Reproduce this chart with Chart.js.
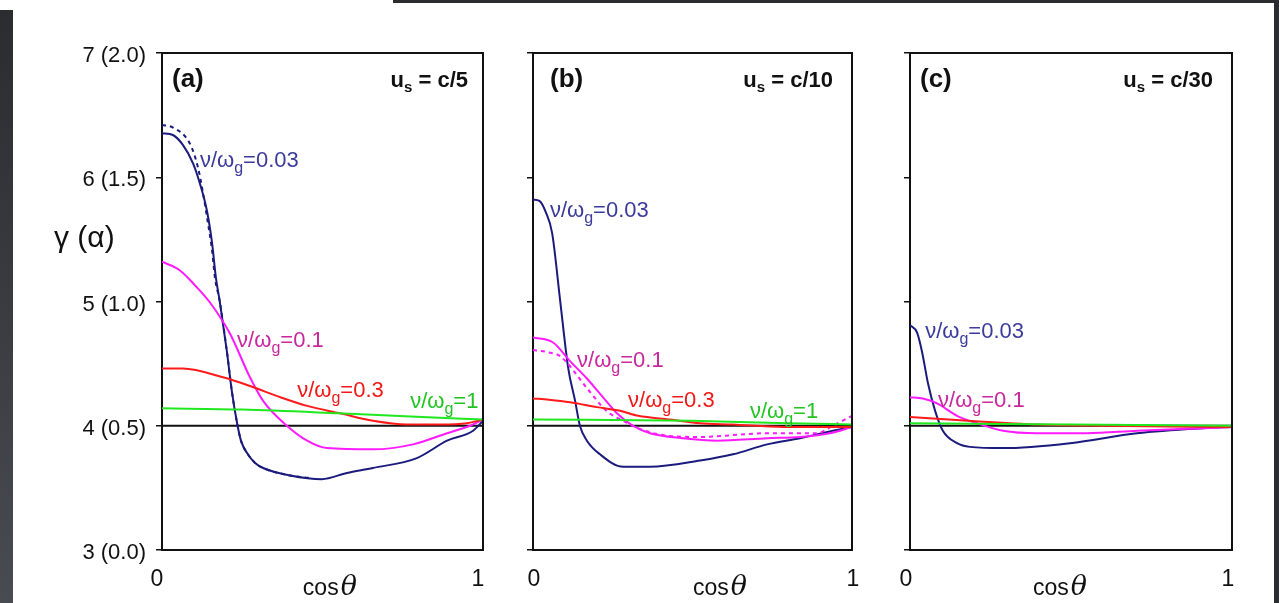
<!DOCTYPE html>
<html>
<head>
<meta charset="utf-8">
<script src="https://cdn.jsdelivr.net/npm/chart.js@4.4.1/dist/chart.umd.min.js"></script>
<style>
  body { margin: 0; width: 1279px; height: 603px; overflow: hidden; position: relative; background: #fff; }
  .pane { position: absolute; top: 0; height: 603px; }
  #edgeL { position: absolute; left: 0; top: 10px; width: 13px; height: 593px; background: linear-gradient(#2a2c30, #484b51); }
  #edgeT { position: absolute; left: 393px; top: 0; width: 886px; height: 3px; background: #2a2c30; }
  #edgeR { position: absolute; left: 1274px; top: 0; width: 5px; height: 603px; background: #2a2c30; }
</style>
</head>
<body>
<div class="pane" style="left:0;width:500px"><canvas id="cA" width="500" height="603"></canvas></div>
<div class="pane" style="left:500px;width:380px"><canvas id="cB" width="380" height="603"></canvas></div>
<div class="pane" style="left:880px;width:399px"><canvas id="cC" width="399" height="603"></canvas></div>
<div id="edgeL"></div><div id="edgeT"></div><div id="edgeR"></div>
<script>
// --- data: [cos theta, gamma] ---
const yTickLabels = ['3 (0.0)', '4 (0.5)', '5 (1.0)', '6 (1.5)', '7 (2.0)'];
const xTickLabels = ['0', '1'];
const panelTags = ['(a)', '(b)', '(c)'];
const speedTexts = ['c/5', 'c/10', 'c/30'];
const ratioNames = ['0.03', '0.1', '0.3', '1'];
const refLine = [[0, 4], [1, 4]];

// (a) u_s = c/5
const aBlue = [[0,6.355],[0.034,6.34],[0.065,6.26],[0.097,6.11],[0.118,5.95],[0.14,5.73],[0.156,5.47],[0.168,5.19],[0.18,5.0],[0.202,4.6],[0.218,4.27],[0.234,4.02],[0.246,3.88],[0.265,3.78],[0.29,3.7],[0.315,3.66],[0.399,3.6],[0.498,3.57],[0.576,3.62],[0.657,3.66],[0.794,3.74],[0.888,3.88],[0.969,3.96],[1,4.04]];
const aBlueDash = [[0,6.42],[0.034,6.4],[0.087,6.27],[0.112,6.08],[0.128,5.87],[0.14,5.68],[0.156,5.41],[0.165,5.19],[0.18,5.0],[0.202,4.6],[0.218,4.27],[0.234,4.02],[0.246,3.88],[0.265,3.78],[0.29,3.7],[0.315,3.66],[0.399,3.6],[0.46,3.58]];
const aMagenta = [[0,5.32],[0.056,5.25],[0.103,5.13],[0.15,4.99],[0.212,4.74],[0.274,4.39],[0.315,4.2],[0.389,4.0],[0.452,3.88],[0.514,3.82],[0.657,3.81],[0.782,3.85],[0.888,3.94],[0.96,4.0],[1,4.05]];
const aRed = [[0,4.46],[0.065,4.46],[0.19,4.39],[0.274,4.32],[0.368,4.23],[0.452,4.16],[0.555,4.1],[0.657,4.04],[0.763,4.01],[0.866,4.01],[0.95,4.02],[1,4.05]];
const aGreen = [[0,4.14],[0.25,4.13],[0.55,4.1],[0.81,4.07],[1,4.05]];

// (b) u_s = c/10
const bBlue = [[0,5.82],[0.02,5.81],[0.04,5.72],[0.06,5.55],[0.085,5.01],[0.11,4.47],[0.132,4.2],[0.147,4.0],[0.169,3.88],[0.21,3.77],[0.282,3.67],[0.367,3.67],[0.524,3.72],[0.627,3.77],[0.734,3.85],[0.837,3.9],[0.94,3.96],[1,3.99]];
const bMagenta = [[0,4.71],[0.063,4.67],[0.116,4.52],[0.169,4.38],[0.219,4.23],[0.263,4.1],[0.313,4.0],[0.367,3.94],[0.47,3.9],[0.577,3.88],[0.734,3.9],[0.837,3.91],[0.931,3.94],[1,3.99]];
const bMagentaDash = [[0,4.61],[0.05,4.59],[0.085,4.56],[0.17,4.3],[0.23,4.12],[0.29,4.03],[0.34,3.97],[0.42,3.92],[0.524,3.91],[0.734,3.94],[0.89,3.94],[0.94,4.0],[1,4.08]];
const bRed = [[0,4.22],[0.05,4.21],[0.116,4.19],[0.2,4.15],[0.273,4.12],[0.33,4.08],[0.43,4.05],[0.524,4.02],[0.627,4.01],[0.784,3.99],[1,3.99]];
const bGreen = [[0,4.05],[0.5,4.04],[0.8,4.02],[1,4.01]];

// (c) u_s = c/30
const cBlue = [[0,4.81],[0.022,4.75],[0.037,4.6],[0.056,4.34],[0.078,4.12],[0.102,3.96],[0.146,3.86],[0.186,3.83],[0.289,3.82],[0.497,3.86],[0.705,3.94],[0.91,3.98],[1,3.99]];
const cMagenta = [[0,4.23],[0.04,4.22],[0.084,4.18],[0.146,4.08],[0.208,4.02],[0.289,3.96],[0.394,3.94],[0.55,3.94],[0.705,3.96],[0.91,3.98],[1,3.99]];
const cRed = [[0,4.07],[0.18,4.04],[0.4,4.01],[0.6,4.0],[1,3.99]];
const cGreen = [[0,4.02],[0.5,4.01],[1,4.0]];

// where each curve label sits (data coords, left edge / baseline)
const labelPosA = [[0.118,6.08],[0.234,4.63],[0.421,4.23],[0.773,4.14]];
const labelPosB = [[0.053,5.68],[0.138,4.47],[0.298,4.15],[0.68,4.06]];
const labelPosC = [[0.047,4.71],[0.087,4.15]];

const lineColors = ['#1b1b7d', '#ff1aff', '#ff1a1a', '#1fe81f'];
const textColors = ['#3b3b9c', '#c9279e', '#f01818', '#22c422'];
const FONT = '"Liberation Sans", Arial, sans-serif';

const panels = [
    { id: 'cA', series: [[aBlue, 0, false], [aBlueDash, 0, true], [aMagenta, 1, false], [aRed, 2, false], [aGreen, 3, false]],
      labels: labelPosA, axisW: 162, padR: 17, tagDx: 10, speedDx: 15, titleX: 0.523, xOff: -5, yLabels: true },
    { id: 'cB', series: [[bBlue, 0, false], [bMagenta, 1, false], [bMagentaDash, 1, true], [bRed, 2, false], [bGreen, 3, false]],
      labels: labelPosB, axisW: 33, padR: 28, tagDx: 17, speedDx: 19, titleX: 0.586, xOff: 1, yLabels: false },
    { id: 'cC', series: [[cBlue, 0, false], [cMagenta, 1, false], [cRed, 2, false], [cGreen, 3, false]],
      labels: labelPosC, axisW: 30, padR: 47, tagDx: 10, speedDx: 19, titleX: 0.466, xOff: -4, yLabels: false }
];

function toXY(arr) { return arr.map(p => ({ x: p[0], y: p[1] })); }

// ν/ω_g=value
function drawRatio(ctx, x, y, val, color) {
    ctx.fillStyle = color;
    ctx.textAlign = 'left';
    ctx.textBaseline = 'alphabetic';
    ctx.font = '22px ' + FONT;
    ctx.fillText('ν/ω', x, y);
    let w = ctx.measureText('ν/ω').width;
    ctx.font = '16px ' + FONT;
    ctx.fillText('g', x + w, y + 6);
    w += ctx.measureText('g').width;
    ctx.font = '22px ' + FONT;
    ctx.fillText('=' + val, x + w, y);
}

function makePlugin(i, p) {
    return {
        id: 'deco' + i,
        afterDatasetsDraw(chart) {
            const ctx = chart.ctx;
            const area = chart.chartArea;
            const xs = chart.scales.x, ys = chart.scales.y;
            ctx.save();

            // frame top + right
            ctx.strokeStyle = '#111';
            ctx.lineWidth = 2;
            ctx.beginPath();
            ctx.moveTo(area.left, area.top);
            ctx.lineTo(area.right, area.top);
            ctx.lineTo(area.right, area.bottom);
            ctx.stroke();

            // curve labels
            p.labels.forEach((pos, k) => {
                drawRatio(ctx, xs.getPixelForValue(pos[0]), ys.getPixelForValue(pos[1]), ratioNames[k], textColors[k]);
            });

            // panel tag
            ctx.fillStyle = '#111';
            ctx.textBaseline = 'alphabetic';
            ctx.textAlign = 'left';
            ctx.font = 'bold 26px ' + FONT;
            ctx.fillText(panelTags[i], area.left + p.tagDx, area.top + 34);

            // u_s = c/N
            const rest = ' = ' + speedTexts[i];
            ctx.font = 'bold 22px ' + FONT;
            const wu = ctx.measureText('u').width;
            const wr = ctx.measureText(rest).width;
            ctx.font = 'bold 15px ' + FONT;
            const ws = ctx.measureText('s').width;
            const sx = area.right - p.speedDx - (wu + ws + wr);
            const by = area.top + 34;
            ctx.font = 'bold 22px ' + FONT;
            ctx.fillText('u', sx, by);
            ctx.font = 'bold 15px ' + FONT;
            ctx.fillText('s', sx + wu, by + 5);
            ctx.font = 'bold 22px ' + FONT;
            ctx.fillText(rest, sx + wu + ws, by);

            // x title: cos θ
            const thetaFont = 'italic 27px "DejaVu Serif", serif';
            ctx.font = '23px ' + FONT;
            const wc = ctx.measureText('cos').width;
            ctx.font = thetaFont;
            const wt = ctx.measureText('θ').width;
            const cx = xs.getPixelForValue(p.titleX) - (wc + 2 + wt) / 2;
            ctx.font = '23px ' + FONT;
            ctx.fillText('cos', cx, 595);
            ctx.font = thetaFont;
            ctx.fillText('θ', cx + wc + 2, 595);

            // y title
            if (p.yLabels) {
                ctx.font = '30px ' + FONT;
                ctx.fillText('γ (α)', 54, 247);
            }
            ctx.restore();
        }
    };
}

panels.forEach((p, i) => {
    const datasets = p.series.map(s => ({
        data: toXY(s[0]),
        borderColor: lineColors[s[1]],
        borderWidth: 2,
        borderDash: s[2] ? [4, 4] : [],
        pointRadius: 0,
        fill: false,
        cubicInterpolationMode: 'monotone',
        order: 4 - s[1]
    }));
    datasets.push({
        data: toXY(refLine),
        borderColor: '#111',
        borderWidth: 2,
        pointRadius: 0,
        fill: false,
        order: 10
    });

    new Chart(document.getElementById(p.id), {
        type: 'line',
        data: { datasets },
        options: {
            responsive: false,
            animation: false,
            events: [],
            layout: { padding: { left: 0, right: p.padR, top: 53, bottom: 0 } },
            plugins: { legend: { display: false }, tooltip: { enabled: false } },
            scales: {
                x: {
                    type: 'linear', min: 0, max: 1,
                    afterFit(scale) { scale.height = 53; },
                    grid: { display: false },
                    border: { display: true, color: '#111', width: 2 },
                    ticks: {
                        stepSize: 1, padding: 8, labelOffset: p.xOff, color: '#111',
                        font: { family: FONT, size: 23 },
                        callback: (v) => xTickLabels[v]
                    }
                },
                y: {
                    type: 'linear', min: 3, max: 7,
                    afterFit(scale) { scale.width = p.axisW; },
                    grid: { drawOnChartArea: false, drawTicks: true, tickLength: 6, color: '#111', lineWidth: 1.5 },
                    border: { display: true, color: '#111', width: 2 },
                    ticks: {
                        stepSize: 1, padding: 10, labelOffset: 3, color: '#111',
                        font: { family: FONT, size: 22 },
                        callback: (v) => p.yLabels ? yTickLabels[v - 3] : ''
                    }
                }
            }
        },
        plugins: [makePlugin(i, p)]
    });
});
</script>
</body>
</html>
